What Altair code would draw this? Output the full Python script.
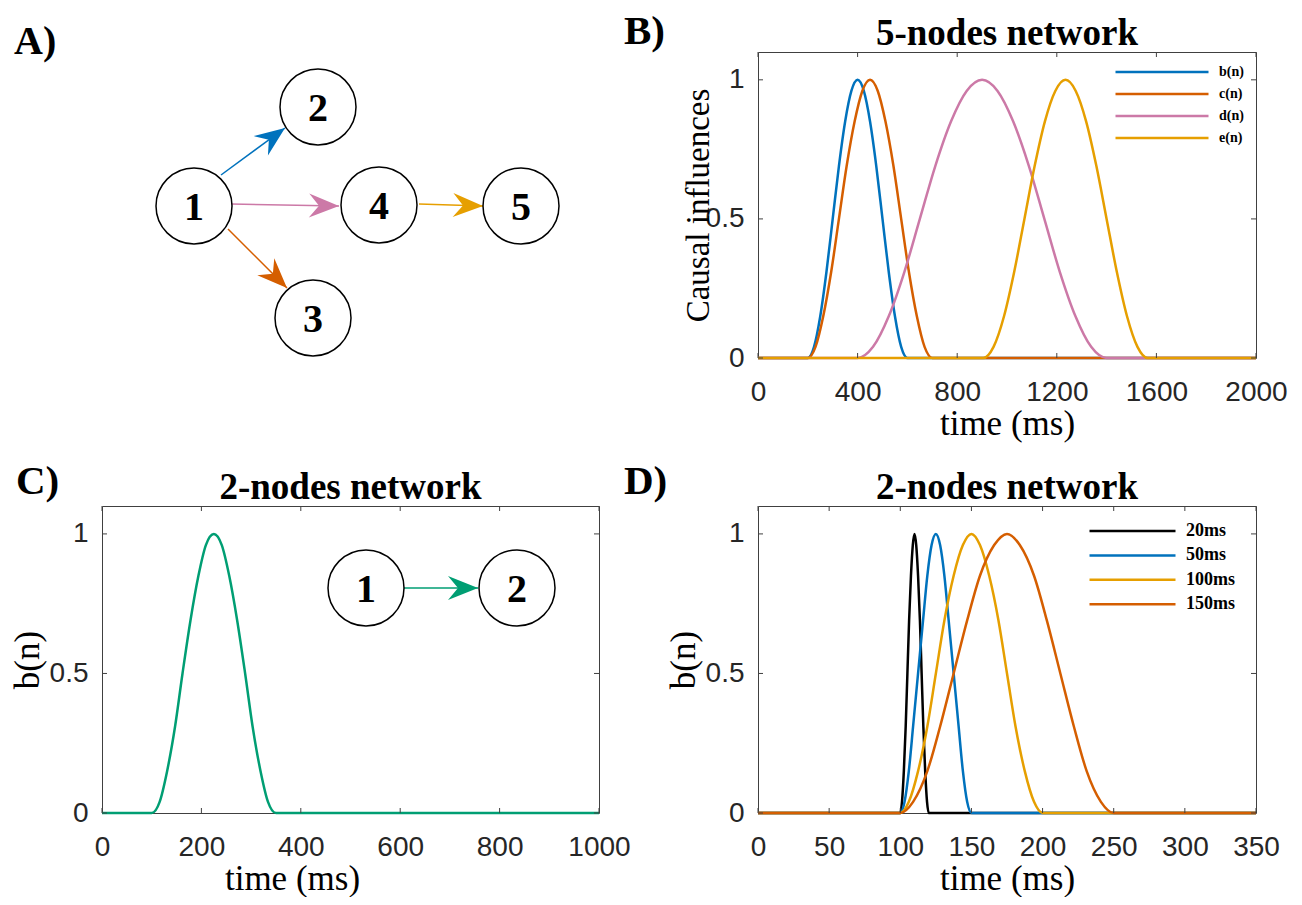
import math
import altair as alt
import pandas as pd

SERIF = "Liberation Serif"
SANS = "Liberation Sans"
BOX = "#404040"
LBL = "#262626"

# ---------------- data ----------------
# Panel B : 5-nodes network
B_SERIES = ["b(n)", "c(n)", "d(n)", "e(n)"]
B_COLORS = ["#0072BD", "#D55E00", "#CC79A7", "#E69F00"]
b_t = [0, 200, 225, 250, 275, 300, 325, 350, 375, 400, 425, 450, 475, 500, 525, 550, 575, 600, 2000]
b_v = [0, 0, 0.04, 0.15, 0.31, 0.5, 0.69, 0.85, 0.96, 1.0, 0.96, 0.85, 0.69, 0.5, 0.31, 0.15, 0.04, 0, 0]
c_t = [0, 200, 231, 262, 294, 325, 356, 388, 419, 450, 481, 512, 544, 575, 606, 638, 669, 700, 2000]
c_v = [0, 0, 0.04, 0.15, 0.31, 0.5, 0.69, 0.85, 0.96, 1.0, 0.96, 0.85, 0.69, 0.5, 0.31, 0.15, 0.04, 0, 0]
d_t = [0, 400, 462, 525, 588, 650, 712, 775, 838, 900, 962, 1025, 1088, 1150, 1212, 1275, 1338, 1400, 2000]
d_v = [0, 0, 0.04, 0.15, 0.31, 0.5, 0.69, 0.85, 0.96, 1.0, 0.96, 0.85, 0.69, 0.5, 0.31, 0.15, 0.04, 0, 0]
e_t = [0, 905, 946, 988, 1029, 1070, 1111, 1152, 1194, 1235, 1276, 1318, 1359, 1400, 1441, 1482, 1524, 1565, 2000]
e_v = [0, 0, 0.04, 0.15, 0.31, 0.5, 0.69, 0.85, 0.96, 1.0, 0.96, 0.85, 0.69, 0.5, 0.31, 0.15, 0.04, 0, 0]

# Panel C : 2-nodes network, b(n)
g_t = [0, 100, 116, 131, 147, 162, 178, 194, 209, 225, 241, 256, 272, 288, 303, 319, 334, 350, 1000]
g_v = [0, 0, 0.04, 0.15, 0.31, 0.5, 0.69, 0.85, 0.96, 1.0, 0.96, 0.85, 0.69, 0.5, 0.31, 0.15, 0.04, 0, 0]

# Panel D : 2-nodes network, different widths
D_SERIES = ["20ms", "50ms", "100ms", "150ms"]
D_COLORS = ["#000000", "#0072BD", "#E69F00", "#D55E00"]
k20_t = [0, 100, 101.2, 102.5, 103.8, 105, 106.2, 107.5, 108.8, 110, 111.2, 112.5, 113.8, 115, 116.2, 117.5, 118.8, 120, 350]
k20_v = [0, 0, 0.04, 0.15, 0.31, 0.5, 0.69, 0.85, 0.96, 1.0, 0.96, 0.85, 0.69, 0.5, 0.31, 0.15, 0.04, 0, 0]
k50_t = [0, 100, 103, 106, 109, 112.5, 116, 119, 122, 125, 128, 131, 134, 137.5, 141, 144, 147, 150, 350]
k50_v = [0, 0, 0.04, 0.15, 0.31, 0.5, 0.69, 0.85, 0.96, 1.0, 0.96, 0.85, 0.69, 0.5, 0.31, 0.15, 0.04, 0, 0]
k100_t = [0, 100, 106, 112.5, 119, 125, 131, 137.5, 144, 150, 156, 162.5, 169, 175, 181, 187.5, 194, 200, 350]
k100_v = [0, 0, 0.04, 0.15, 0.31, 0.5, 0.69, 0.85, 0.96, 1.0, 0.96, 0.85, 0.69, 0.5, 0.31, 0.15, 0.04, 0, 0]
k150_t = [0, 100, 109, 119, 128, 137.5, 147, 156, 166, 175, 184, 194, 203, 212.5, 222, 231, 241, 250, 350]
k150_v = [0, 0, 0.04, 0.15, 0.31, 0.5, 0.69, 0.85, 0.96, 1.0, 0.96, 0.85, 0.69, 0.5, 0.31, 0.15, 0.04, 0, 0]

# tick labels
B_XTICKS = [0, 400, 800, 1200, 1600, 2000]
C_XTICKS = [0, 200, 400, 600, 800, 1000]
D_XTICKS = [0, 50, 100, 150, 200, 250, 300, 350]
Y_TICKS = [0, 0.5, 1]

# Panel A : network graph (layout units)
A_NODE_ID = ["1", "2", "3", "4", "5"]
A_NODE_X = [193, 317, 312, 378, 520]
A_NODE_Y = [205, 106, 317, 204, 205]
A_EDGE_X0 = [220, 230, 227, 418]
A_EDGE_Y0 = [174, 203, 228, 203]
A_EDGE_X1 = [284, 338, 286, 482]
A_EDGE_Y1 = [127, 205, 287, 205]
A_EDGE_COL = ["#0072BD", "#CC79A7", "#D55E00", "#E69F00"]

# Inset in panel C (layout units)
C_NODE_ID = ["1", "2"]
C_NODE_X = [365, 516]
C_NODE_Y = [587, 587]
C_EDGE_X0 = [403]
C_EDGE_Y0 = [587]
C_EDGE_X1 = [477]
C_EDGE_Y1 = [587]
C_EDGE_COL = ["#009E73"]

ARROW = "M0,0L-3,-1.2L-2,0L-3,1.2Z"


def series_df(names, ts, vs):
    rows = []
    for name, tt, vv in zip(names, ts, vs):
        for i, (a, b) in enumerate(zip(tt, vv)):
            rows.append({"s": name, "t": a, "v": b, "i": i})
    return pd.DataFrame(rows)


def axes(W, H, xdom, xt, xtx, ytitle, ytx, ytsize):
    xs = alt.Scale(domain=xdom, nice=False, zero=False)
    ys = alt.Scale(domain=[0, 1.1], nice=False, zero=False)
    xa = alt.Axis(values=xt, format="d", title="time (ms)", titleFont=SERIF,
                  titleFontSize=35, titleFontWeight="normal", titleColor="black",
                  titleX=xtx, titleY=76, titleBaseline="alphabetic", titleAlign="center",
                  labelFont=SANS, labelFontSize=28, labelColor=LBL, labelPadding=20,
                  labelFlush=False, labelOverlap=False, domain=False, ticks=False, grid=False)
    ya = alt.Axis(values=Y_TICKS, format=".1~f", title=ytitle, titleFont=SERIF,
                  titleFontSize=ytsize, titleFontWeight="normal", titleColor="black",
                  titleX=ytx, titleY=H / 2, titleAngle=270, titleBaseline="alphabetic",
                  titleAlign="center",
                  labelFont=SANS, labelFontSize=28, labelColor=LBL, labelPadding=14,
                  labelFlush=False, labelOverlap=False, domain=False, ticks=False, grid=False)
    return alt.X("t:Q", scale=xs, axis=xa), alt.Y("v:Q", scale=ys, axis=ya)


def tick_layers(X, Y, xt, W, H):
    dx = pd.DataFrame({"t": xt})
    dy = pd.DataFrame({"v": Y_TICKS})
    L = 5
    r = dict(color=BOX, strokeWidth=1)
    return [
        alt.Chart(dx).mark_rule(**r).encode(x=X, y=alt.value(H), y2=alt.value(H - L)),
        alt.Chart(dx).mark_rule(**r).encode(x=X, y=alt.value(0), y2=alt.value(L)),
        alt.Chart(dy).mark_rule(**r).encode(y=Y, x=alt.value(0), x2=alt.value(L)),
        alt.Chart(dy).mark_rule(**r).encode(y=Y, x=alt.value(W), x2=alt.value(W - L)),
    ]


ONE = pd.DataFrame({"k": [0]})


def label(text, x, y, size, align="left"):
    return alt.Chart(ONE).mark_text(text=text, font=SERIF, fontWeight="bold", fontSize=size,
                                    align=align, baseline="alphabetic", color="black").encode(
        x=alt.value(x), y=alt.value(y))


def graph_layers(nid, nx, ny, ex0, ey0, ex1, ey1, ecol, xdom, ydom):
    nodes = pd.DataFrame({"id": nid, "x": nx, "y": ny})
    ang = [(math.degrees(math.atan2(b1 - b0, a1 - a0)) + 360) % 360
           for a0, b0, a1, b1 in zip(ex0, ey0, ex1, ey1)]
    edges = pd.DataFrame({"x0": ex0, "y0": ey0, "x1": ex1, "y1": ey1, "col": ecol, "ang": ang})
    xs = alt.Scale(domain=xdom, nice=False, zero=False)
    ys = alt.Scale(domain=ydom, nice=False, zero=False, reverse=True)
    lines = alt.Chart(edges).mark_rule(strokeWidth=1.5).encode(
        x=alt.X("x0:Q", scale=xs, axis=None), y=alt.Y("y0:Q", scale=ys, axis=None),
        x2="x1:Q", y2="y1:Q", color=alt.Color("col:N", scale=None))
    heads = alt.Chart(edges).mark_point(shape=ARROW, filled=True, size=400, opacity=1, strokeWidth=0).encode(
        x=alt.X("x1:Q", scale=xs, axis=None), y=alt.Y("y1:Q", scale=ys, axis=None),
        angle=alt.Angle("ang:Q", scale=None), color=alt.Color("col:N", scale=None))
    circles = alt.Chart(nodes).mark_point(shape="circle", filled=True, fill="white", stroke="black",
                                          strokeWidth=1.5, size=5776, opacity=1).encode(
        x=alt.X("x:Q", scale=xs, axis=None), y=alt.Y("y:Q", scale=ys, axis=None))
    texts = alt.Chart(nodes).mark_text(font=SERIF, fontWeight="bold", fontSize=40, baseline="alphabetic",
                                       dy=14, color="black").encode(
        x=alt.X("x:Q", scale=xs, axis=None), y=alt.Y("y:Q", scale=ys, axis=None), text="id:N")
    return [lines, heads, circles, texts]


# ---------------- Panel A ----------------
WA, HA = 497, 306
sizer = alt.Chart(ONE).mark_rule(opacity=0).encode(x=alt.value(-93), x2=alt.value(-92), y=alt.value(-43))
panelA = alt.layer(
    *graph_layers(A_NODE_ID, A_NODE_X, A_NODE_Y, A_EDGE_X0, A_EDGE_Y0, A_EDGE_X1, A_EDGE_Y1,
                  A_EDGE_COL, [101, 598], [51, 357]),
    label("A)", -88, 2, 40),
    sizer,
).properties(width=WA, height=HA, view=alt.ViewBackground(stroke="transparent"))

# ---------------- Panel B ----------------
WB, HB = 498, 306
XB, YB = axes(WB, HB, [0, 2000], B_XTICKS, WB / 2, "Causal influences", -50, 33)
dfB = series_df(B_SERIES, [b_t, c_t, d_t, e_t], [b_v, c_v, d_v, e_v])
curvesB = alt.Chart(dfB).mark_line(interpolate="monotone", strokeWidth=2.5).encode(
    x=XB, y=YB, order="i:Q",
    color=alt.Color("s:N", scale=alt.Scale(domain=B_SERIES, range=B_COLORS),
                    legend=alt.Legend(title=None, orient="none", legendX=356, legendY=10,
                                      symbolType="stroke", symbolSize=8649, symbolStrokeWidth=2.5,
                                      clipHeight=20, rowPadding=2, padding=0, symbolOffset=0,
                                      labelFont=SERIF, labelFontWeight="bold", labelFontSize=14,
                                      labelColor="black", labelOffset=9)))
panelB = alt.layer(
    curvesB, *tick_layers(XB, YB, B_XTICKS, WB, HB),
    label("B)", -134, -8, 41),
    label("5-nodes network", WB / 2, -7, 37, align="center"),
).properties(width=WB, height=HB)

# ---------------- Panel C ----------------
WC, HC = 497, 307
XC, YC = axes(WC, HC, [0, 1000], C_XTICKS, 190, "b(n)", -64, 35)
dfC = series_df(["b(n)"], [g_t], [g_v])
curveC = alt.Chart(dfC).mark_line(interpolate="monotone", strokeWidth=2.5, color="#009E73").encode(
    x=XC, y=YC, order="i:Q")
mainC = alt.layer(
    curveC, *tick_layers(XC, YC, C_XTICKS, WC, HC),
    label("C)", -86, -12, 41),
    label("2-nodes network", WC / 2, -7, 37, align="center"),
)
insetC = alt.layer(*graph_layers(C_NODE_ID, C_NODE_X, C_NODE_Y, C_EDGE_X0, C_EDGE_Y0, C_EDGE_X1,
                                 C_EDGE_Y1, C_EDGE_COL, [101, 598], [505, 812]))
panelC = alt.layer(mainC, insetC).resolve_scale(x="independent", y="independent").properties(
    width=WC, height=HC)

# ---------------- Panel D ----------------
WD, HD = 498, 307
XD, YD = axes(WD, HD, [0, 350], D_XTICKS, WD / 2, "b(n)", -64, 35)
dfD = series_df(D_SERIES, [k20_t, k50_t, k100_t, k150_t], [k20_v, k50_v, k100_v, k150_v])
curvesD = alt.Chart(dfD).mark_line(interpolate="monotone", strokeWidth=2.5).encode(
    x=XD, y=YD, order="i:Q",
    color=alt.Color("s:N", scale=alt.Scale(domain=D_SERIES, range=D_COLORS),
                    legend=alt.Legend(title=None, orient="none", legendX=330, legendY=14,
                                      symbolType="stroke", symbolSize=7396, symbolStrokeWidth=2.5,
                                      clipHeight=22, rowPadding=2.4, padding=0, symbolOffset=0,
                                      labelFont=SERIF, labelFontWeight="bold", labelFontSize=18,
                                      labelColor="black", labelOffset=9)))
panelD = alt.layer(
    curvesD, *tick_layers(XD, YD, D_XTICKS, WD, HD),
    label("D)", -134, -12, 41),
    label("2-nodes network", WD / 2, -7, 37, align="center"),
).properties(width=WD, height=HD)

chart = alt.concat(panelA, panelB, panelC, panelD, columns=2,
                   spacing={"row": 148, "column": 159}, bounds="flush").resolve_scale(
    color="independent").resolve_legend(color="independent").properties(
    padding=0).configure_view(stroke=BOX, strokeWidth=1)

chart.save("out.html", embed_options={"renderer": "svg", "actions": False})
